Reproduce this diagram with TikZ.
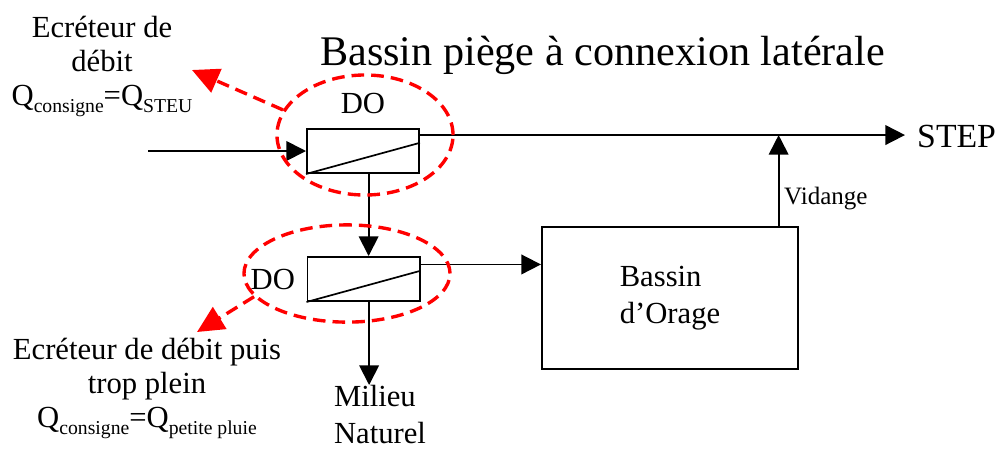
\documentclass[tikz,border=0pt]{standalone}
\usepackage{fontspec}
\setmainfont{Liberation Serif}
\usepackage{tikz}
\usetikzlibrary{arrows.meta,positioning,shapes.geometric}
\newcommand{\titlefont}{\fontsize{30}{36}\selectfont}
\newcommand{\dofont}{\fontsize{21.8}{26}\selectfont}
\newcommand{\notefont}{\fontsize{21.8}{24}\selectfont}
\newcommand{\stepfont}{\fontsize{24}{28}\selectfont}
\newcommand{\vidfont}{\fontsize{17.8}{21}\selectfont}
\newcommand{\qsub}[1]{\raisebox{-5.5pt}{\fontsize{14}{14}\selectfont #1}}
\tikzset{
  dobox/.style={draw, line width=1.4pt, minimum width=2.8cm, minimum height=1.1cm,
                inner sep=0pt},
  basin/.style={draw, line width=1.4pt, minimum width=6.4cm, minimum height=3.55cm,
                align=left, font=\dofont},
  ring/.style={draw=red, ellipse, line width=2.4pt, dash pattern=on 9pt off 5pt,
               inner sep=0pt},
  redarrow/.style={red, line width=2.4pt, dash pattern=on 9pt off 5pt,
                   -{Triangle[length=19pt,width=18pt]}},
  flow/.style={line width=1.3pt, -{Triangle[length=14pt,width=14pt]}},
  txt/.style={inner sep=0pt, align=center, font=\dofont},
}

\begin{document}
\begin{tikzpicture}[x=0.025cm, y=-0.025cm]
  \useasboundingbox (0,0) rectangle (1002,450);
  \node[anchor=base west, inner sep=0pt, font=\titlefont] (title) at (320,65)
    {Bassin piège à connexion latérale};
  % deversoirs
  \node[dobox] (do1) at (363,151) {};
  \node[dobox] (do2) at (363.5,279) {};
  \node[txt, above=10pt of do1] (do1lbl) {DO};
  \node[txt, left=8pt of do2] (do2lbl) {DO};
  \draw[line width=1.2pt] (do1.south west) -- ([yshift=-10.5pt]do1.north east);
  \draw[line width=1.2pt] (do2.south west) -- ([yshift=-10.5pt]do2.north east);
  \node[basin] (bassin) at (670,298) {Bassin\\d'Orage};
  % flux
  \coordinate (inlet) at (148,151);
  \coordinate (stepin) at (905,136);
  \node[txt, font=\stepfont, right=8.5pt of stepin] (step) {STEP};
  \draw[flow] (inlet) -- (do1.west);
  \draw[flow] ([yshift=-5pt]do1.north east) coordinate (d1e) -- (d1e -| stepin);
  \draw[flow] ([xshift=4pt]do1.south) coordinate (d1s) -- (d1s |- do2.north);
  \draw[flow] ([yshift=-6pt]do2.north east) coordinate (d2e) -- (d2e -| bassin.west);
  \node[txt, align=left, anchor=north] (milieu) at (380,385) {Milieu\\Naturel};
  \draw[flow] ([xshift=4pt]do2.south) coordinate (d2s) -- (d2s |- milieu.north);
  \draw[flow] ([xshift=-14.5pt]bassin.north east) coordinate (vd) -- (vd |- d1e)
    node[pos=0.3, right, font=\vidfont] {Vidange};
  % ecreteurs
  \node[ring, minimum width=4.4cm, minimum height=3cm] (ring1) at (365,135) {};
  \node[ring, minimum width=5.15cm, minimum height=2.43cm] (ring2) at (347,273.5) {};
  \node[txt, anchor=north, font=\notefont] (note1) at (102,16)
    {Ecréteur de\\débit\\Q\qsub{consigne}=Q\qsub{STEU}};
  \node[txt, anchor=north, font=\notefont] (note2) at (147,338)
    {Ecréteur de débit puis\\trop plein\\Q\qsub{consigne}=Q\qsub{petite pluie}};
  \coordinate (tip1) at (192,70);
  \coordinate (tip2) at (197,332);
  \draw[redarrow] (ring1.163) -- (tip1);
  \draw[redarrow] (ring2.194) -- (tip2);
\end{tikzpicture}
\end{document}
